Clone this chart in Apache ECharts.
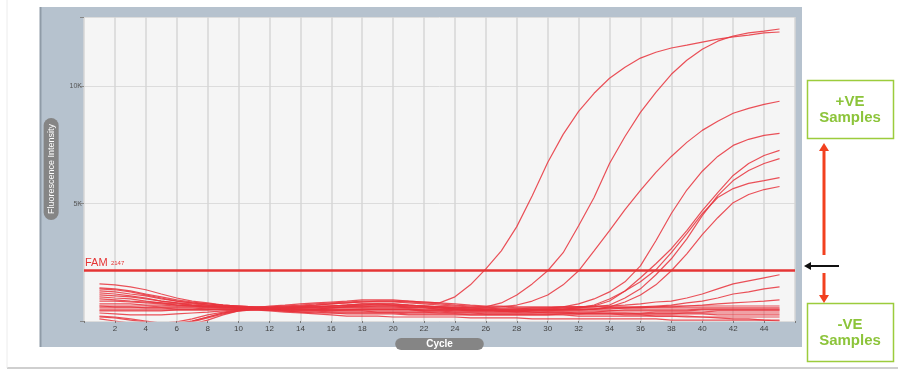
<!DOCTYPE html>
<html>
<head>
<meta charset="utf-8">
<script src="https://cdn.jsdelivr.net/npm/echarts@6/dist/echarts.min.js"></script>
<style>
html,body{margin:0;padding:0;background:#fff;}
#chart{width:898px;height:370px;}
</style>
</head>
<body>
<div id="chart"></div>
<script>
// ---- data ----
const cycles = [1,2,3,4,5,6,7,8,9,10,11,12,13,14,15,16,17,18,19,20,21,22,23,24,25,26,27,28,29,30,31,32,33,34,35,36,37,38,39,40,41,42,43,44,45];
const xTickLabels = ['2','4','6','8','10','12','14','16','18','20','22','24','26','28','30','32','34','36','38','40','42','44'];
const yTickValues = [5000, 10000];
const yTickLabels = ['5K', '10K'];
const thresholdName = 'FAM';
const thresholdValue = 2147;
const xAxisTitle = 'Cycle';
const yAxisTitle = 'Fluorescence Intensity';
const posLabel = ['+VE', 'Samples'];
const negLabel = ['-VE', 'Samples'];

// positive samples
const p1 = [1110,1070,1030,940,850,770,730,680,640,600,560,640,680,730,770,810,850,900,900,900,850,810,770,1030,1540,2220,2990,4020,5340,6750,7950,8930,9700,10340,10810,11200,11450,11630,11750,11880,12010,12100,12180,12270,12310];
const p2 = [1410,1370,1280,1150,1030,900,810,730,680,640,600,600,640,640,680,730,770,810,810,810,770,730,680,640,600,600,770,1110,1580,2140,2910,4060,5260,6710,7860,8890,9740,10510,11110,11580,11920,12140,12270,12350,12440];
const p3 = [1280,1240,1150,1070,940,850,770,730,680,640,600,560,600,600,640,640,680,680,730,680,680,640,600,560,560,560,600,680,850,1110,1540,2140,2990,3850,4740,5560,6330,7010,7610,8120,8510,8850,9060,9230,9360];
const p4 = [1580,1540,1450,1330,1150,980,850,770,680,640,600,600,640,680,730,770,810,850,850,850,810,770,730,680,640,600,600,560,560,560,600,730,940,1240,1670,2350,3420,4580,5580,6380,7010,7480,7740,7910,7990];
const p5 = [940,900,850,810,770,730,680,640,600,600,560,560,560,600,600,640,640,680,680,680,640,640,600,600,560,560,510,510,510,510,560,600,640,850,1280,1840,2440,3080,3850,4700,5470,6200,6710,7050,7270];
const p6 = [730,730,730,680,680,640,640,600,600,560,560,510,510,560,560,560,600,600,600,600,560,560,510,510,470,470,470,470,470,510,510,560,600,680,980,1370,1970,2650,3500,4490,5340,5980,6410,6710,6920];
const p7 = [640,640,640,640,600,600,600,560,560,560,510,470,470,470,470,510,510,510,510,510,510,470,470,430,430,430,430,430,470,470,510,560,680,940,1280,1670,2180,2910,3720,4570,5260,5640,5860,5980,6110];
const p8 = [560,560,560,560,560,560,560,510,510,510,510,470,430,430,430,430,470,470,470,470,470,430,430,380,380,380,380,380,430,430,470,470,510,600,810,1110,1540,2140,2860,3680,4400,5040,5390,5600,5730];
// weak risers
const n1 = [430,430,430,430,430,470,470,470,510,510,510,510,510,510,510,560,560,560,560,560,560,560,510,510,510,510,510,510,560,560,600,600,640,640,680,730,810,850,980,1150,1370,1580,1710,1840,1970];
const n2 = [340,300,260,260,260,300,340,380,430,470,510,470,470,470,470,470,470,510,510,510,510,470,470,470,430,430,430,430,470,470,470,510,510,560,560,600,640,680,770,850,980,1150,1240,1370,1450];
const n3 = [170,130,40,-40,-90,-40,90,260,380,470,510,510,510,510,470,470,470,470,470,470,470,430,430,430,430,430,430,430,470,470,470,470,510,510,560,560,600,600,640,680,730,770,810,850,900];
// negative samples (baseline)
const b1 = [90,0,-90,-170,-210,-130,0,170,340,470,510,560,600,640,680,730,770,810,850,850,850,810,770,730,680,640,640,600,600,600,600,600,600,600,600,600,600,640,640,640,640,640,640,640,640];
const b2 = [-90,-170,-260,-300,-260,-170,-40,130,300,430,510,510,560,560,600,640,680,730,730,730,680,640,600,560,560,510,510,510,510,510,510,510,510,560,560,560,560,560,560,560,560,560,560,560,560];
const b3 = [-170,-260,-340,-380,-340,-260,-130,40,260,430,470,470,470,510,510,560,600,600,640,640,600,600,560,510,470,470,430,430,430,430,430,430,430,430,470,470,470,470,470,510,510,510,510,510,510];
const b4 = [640,600,600,560,560,510,510,510,510,510,470,470,430,430,430,380,380,380,380,380,380,380,340,340,340,340,340,340,340,380,380,380,380,430,430,430,430,430,430,470,470,470,470,470,470];
const b5 = [850,850,810,770,730,680,640,600,600,560,560,510,510,470,470,430,430,430,380,380,380,380,380,340,340,300,300,300,300,300,300,300,340,340,340,340,380,380,380,380,430,430,430,430,430];
const b6 = [470,470,470,470,470,470,470,470,470,510,510,470,430,380,340,340,300,300,300,300,260,260,260,260,260,260,260,260,260,260,300,300,300,300,300,300,300,300,340,340,340,340,340,340,340];
const b7 = [1370,1330,1240,1110,980,850,770,680,640,600,560,560,560,560,560,600,600,640,640,640,600,600,560,510,470,470,430,430,380,380,380,340,340,340,340,300,300,300,300,300,260,260,260,260,260];
const b8 = [1030,980,940,850,770,680,640,600,560,560,510,470,430,380,380,340,340,340,340,340,300,300,300,300,260,260,260,260,260,260,260,210,210,210,210,210,210,210,210,170,170,170,170,170,170];
const b9 = [210,170,90,0,-90,-90,0,170,340,430,470,430,380,340,300,260,210,210,210,170,170,170,170,170,130,130,130,130,90,90,90,90,90,90,90,90,90,40,40,40,40,40,40,40,40];
const b10 = [1200,1150,1070,980,850,770,680,640,600,560,560,560,560,600,600,640,680,730,730,730,680,640,600,560,510,470,430,380,380,340,340,300,300,300,260,260,210,210,170,170,130,90,90,40,0];

const allCurves = [p1,p2,p3,p4,p5,p6,p7,p8,n1,n2,n3,b1,b2,b3,b4,b5,b6,b7,b8,b9,b10];

// ---- chart ----
const chart = echarts.init(document.getElementById('chart'), null, {renderer: 'canvas'});
const FONT = 'Liberation Sans, Arial, sans-serif';
const curveColor = '#e8323c';

const series = allCurves.map((vals, idx) => ({
  type: 'line',
  data: cycles.map((c, i) => [c, vals[i]]),
  showSymbol: false,
  symbol: 'none',
  silent: true,
  clip: true,
  z: 3,
  lineStyle: {color: curveColor, width: 1.2, opacity: 0.85},
  markLine: idx === 0 ? {
    silent: true,
    symbol: ['none', 'none'],
    lineStyle: {color: '#e53535', width: 2.5, type: 'solid', opacity: 1},
    label: {
      show: true,
      position: 'insideStartTop',
      distance: [1, 2],
      formatter: '{a|' + thresholdName + '} {b|' + thresholdValue + '}',
      rich: {
        a: {color: '#e53535', fontSize: 11, fontFamily: FONT},
        b: {color: '#e53535', fontSize: 6, fontFamily: FONT, padding: [2, 0, 0, 0]}
      }
    },
    data: [{yAxis: thresholdValue}]
  } : undefined
}));

const green = '#9ccc3c';
const greenText = '#8cc43a';
const arrowRed = '#f2401f';

chart.setOption({
  animation: false,
  backgroundColor: '#ffffff',
  grid: {left: 84, top: 17, width: 711, height: 304, show: false},
  xAxis: {
    type: 'value', min: 0, max: 46, interval: 2,
    name: xAxisTitle, nameLocation: 'middle', nameGap: 8,
    nameTextStyle: {
      color: '#ffffff', fontSize: 10, fontFamily: FONT, fontWeight: 'bold',
      backgroundColor: '#858585', borderRadius: 7, padding: [1, 31, 1, 31]
    },
    axisLine: {show: false},
    axisTick: {show: true, length: 2, lineStyle: {color: '#777'}},
    axisLabel: {
      color: '#444', fontSize: 8, fontFamily: FONT, margin: 4,
      formatter: v => { const s = String(v); return xTickLabels.indexOf(s) >= 0 ? s : ''; }
    },
    splitLine: {show: true, lineStyle: {color: '#d6d6d6', width: 1.5}}
  },
  yAxis: {
    type: 'value', min: 0, max: 12950, interval: 5000,
    name: yAxisTitle, nameLocation: 'middle', nameGap: 24, nameRotate: 90,
    nameTextStyle: {
      color: '#ffffff', fontSize: 9, fontFamily: FONT,
      backgroundColor: '#858585', borderRadius: 8, padding: [3, 6, 3, 6]
    },
    axisLine: {show: false},
    axisTick: {show: true, length: 4, lineStyle: {color: '#888'}},
    axisLabel: {
      color: '#555', fontSize: 7, fontFamily: FONT, margin: 2,
      formatter: v => { const k = yTickValues.indexOf(v); return k >= 0 ? yTickLabels[k] : ''; }
    },
    splitLine: {show: true, lineStyle: {color: '#dcdcdc', width: 1}}
  },
  graphic: [
    {type: 'rect', z: -20, silent: true, shape: {x: 40, y: 7, width: 762, height: 340}, style: {fill: '#b6c2ce'}},
    {type: 'line', z: -19, silent: true, shape: {x1: 40.5, y1: 7, x2: 40.5, y2: 347}, style: {stroke: '#8f9ba7', lineWidth: 2}},
    {type: 'rect', z: -18, silent: true, shape: {x: 84, y: 17, width: 711, height: 304}, style: {fill: '#f5f5f5'}},
    {type: 'line', z: -19, silent: true, shape: {x1: 7, y1: 368, x2: 898, y2: 368}, style: {stroke: '#cfcfcf', lineWidth: 2}},
    {type: 'line', z: -19, silent: true, shape: {x1: 7, y1: 0, x2: 7, y2: 368}, style: {stroke: '#ececec', lineWidth: 1}},
    // +VE box
    {type: 'rect', z: 10, silent: true, shape: {x: 807.5, y: 80.5, width: 86, height: 58}, style: {fill: '#fff', stroke: green, lineWidth: 1.5}},
    {type: 'text', z: 11, silent: true, style: {x: 850, y: 102, text: posLabel[0], fill: greenText, font: 'bold 15px ' + FONT, textAlign: 'center', textVerticalAlign: 'middle'}},
    {type: 'text', z: 11, silent: true, style: {x: 850, y: 118, text: posLabel[1], fill: greenText, font: 'bold 15px ' + FONT, textAlign: 'center', textVerticalAlign: 'middle'}},
    // -VE box
    {type: 'rect', z: 10, silent: true, shape: {x: 807.5, y: 303.5, width: 86, height: 58}, style: {fill: '#fff', stroke: green, lineWidth: 1.5}},
    {type: 'text', z: 11, silent: true, style: {x: 850, y: 325, text: negLabel[0], fill: greenText, font: 'bold 15px ' + FONT, textAlign: 'center', textVerticalAlign: 'middle'}},
    {type: 'text', z: 11, silent: true, style: {x: 850, y: 341, text: negLabel[1], fill: greenText, font: 'bold 15px ' + FONT, textAlign: 'center', textVerticalAlign: 'middle'}},
    // red arrows
    {type: 'line', z: 10, silent: true, shape: {x1: 824, y1: 255, x2: 824, y2: 150}, style: {stroke: arrowRed, lineWidth: 3}},
    {type: 'polygon', z: 10, silent: true, shape: {points: [[819, 151], [829, 151], [824, 143]]}, style: {fill: arrowRed}},
    {type: 'line', z: 10, silent: true, shape: {x1: 824, y1: 273, x2: 824, y2: 296}, style: {stroke: arrowRed, lineWidth: 3}},
    {type: 'polygon', z: 10, silent: true, shape: {points: [[819, 295], [829, 295], [824, 303]]}, style: {fill: arrowRed}},
    // black arrow
    {type: 'line', z: 10, silent: true, shape: {x1: 839, y1: 266, x2: 810, y2: 266}, style: {stroke: '#111', lineWidth: 2}},
    {type: 'polygon', z: 10, silent: true, shape: {points: [[811, 262], [811, 270], [804, 266]]}, style: {fill: '#111'}}
  ],
  series: series
});
</script>
</body>
</html>
